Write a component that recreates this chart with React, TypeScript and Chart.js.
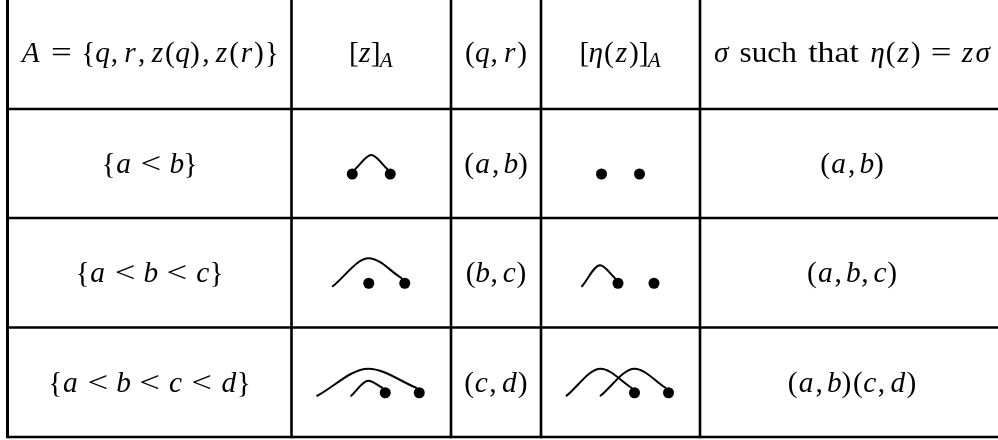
import React, { useEffect, useRef } from "react";
import { Chart, registerables } from "chart.js";

Chart.register(...registerables);

// ---- table structure ----
const colLines = [7.5, 291.5, 451, 541, 700, 1004];
const rowLines = [-4, 109, 218, 327.5, 437];

// ---- table text ----
const headers = ["A = {q, r, z(q), z(r)}", "[z]_A", "(q, r)", "[η(z)]_A", "σ such that η(z) = zσ"];
const subsets = ["{a < b}", "{a < b < c}", "{a < b < c < d}"];
const transpositions = ["(a, b)", "(b, c)", "(c, d)"];
const sigmas = ["(a, b)", "(a, b, c)", "(a, b)(c, d)"];

// ---- arc diagrams: positions count, dotted positions, arcs [from, to, rise] ----
const zCounts = [2, 3, 4];
const zDots = [[0, 1], [1, 2], [2, 3]];
const zArcs = [[[0, 1, 19]], [[0, 2, 25]], [[0, 3, 24], [1, 2, 12]]];
const etaCounts = [2, 3, 4];
const etaDots = [[0, 1], [1, 2], [2, 3]];
const etaArcs = [[], [[0, 1, 18]], [[0, 2, 24], [1, 3, 24]]];

const FONT = "'Liberation Serif', 'DejaVu Serif', serif";
const SIZE = 29.4;

// advance widths (em) emulating Computer Modern metrics
const CM_MATH: Record<string, number> = {
  "(": 0.389, ")": 0.389, "[": 0.278, "]": 0.278, "{": 0.5, "}": 0.5, ",": 0.278,
  "=": 0.778, "<": 0.778,
  A: 0.75, a: 0.529, b: 0.429, c: 0.433, d: 0.52, q: 0.46, r: 0.451, z: 0.465,
  "σ": 0.571, "η": 0.497,
};
const CM_ROMAN: Record<string, number> = { s: 0.394, u: 0.556, c: 0.444, h: 0.556, t: 0.389, a: 0.5 };

type Glyph = { ch: string; italic: boolean; sub: boolean; w: number; gap: boolean; kind: string };

function tokenize(s: string): Glyph[] {
  const out: Glyph[] = [];
  let i = 0;
  while (i < s.length) {
    const ch = s[i];
    if (ch === " ") {
      const prev = s[i - 1];
      const next = s[i + 1];
      let em = 0.333;
      if (prev === ",") em = 0.2;
      else if ("<=".includes(prev) || "<=".includes(next)) em = 0.278;
      out.push({ ch: "", italic: false, sub: false, w: em, gap: true, kind: "gap" });
      i++;
      continue;
    }
    if (ch === "_") {
      out.push({ ch: s[i + 1], italic: true, sub: true, w: 0, gap: false, kind: "sub" });
      i += 2;
      continue;
    }
    if (/[A-Za-z]/.test(ch)) {
      let j = i;
      while (j < s.length && /[A-Za-z]/.test(s[j])) j++;
      const word = s.slice(i, j);
      if (word.length === 1) {
        out.push({ ch: word, italic: true, sub: false, w: CM_MATH[word] ?? 0.5, gap: false, kind: "var" });
      } else {
        let w = 0;
        for (const c of word) w += CM_ROMAN[c] ?? 0.5;
        out.push({ ch: word, italic: false, sub: false, w, gap: false, kind: "word" });
      }
      i = j;
      continue;
    }
    const italic = ch === "σ" || ch === "η";
    const kind = ch === "=" || ch === "<" ? "rel" : ch === "," ? "comma" : italic ? "var" : "sym";
    out.push({ ch, italic, sub: false, w: CM_MATH[ch] ?? 0.5, gap: false, kind });
    i++;
  }
  return out;
}

function drawMath(ctx: CanvasRenderingContext2D, s: string, cx: number, baseline: number) {
  const glyphs = tokenize(s);
  const fontOf = (g: Glyph) => `${g.italic ? "italic " : ""}${g.sub ? SIZE * 0.72 : SIZE}px ${FONT}`;
  const boxes = glyphs.map((g) => {
    if (g.gap) return { box: g.w * SIZE, gw: 0 };
    ctx.font = fontOf(g);
    const gw = ctx.measureText(g.ch).width;
    if (g.sub) return { box: gw, gw };
    return { box: g.w * SIZE, gw };
  });
  const total = boxes.reduce((a, b) => a + b.box, 0);
  let x = cx - total / 2;
  ctx.fillStyle = "#000";
  ctx.textBaseline = "alphabetic";
  ctx.textAlign = "left";
  glyphs.forEach((g, k) => {
    const b = boxes[k];
    if (!g.gap) {
      ctx.font = fontOf(g);
      const y = baseline + (g.sub ? SIZE * 0.17 : 0);
      if (g.kind === "rel" || g.kind === "word") {
        const sx = g.kind === "rel" ? 1.25 : Math.min(1.15, Math.max(1, b.box / b.gw));
        ctx.save();
        ctx.translate(x + b.box / 2, y);
        ctx.scale(sx, 1);
        ctx.textAlign = "center";
        ctx.fillText(g.ch, 0, 0);
        ctx.restore();
      } else {
        const dx = g.kind === "comma" ? 0.05 * SIZE : (b.box - b.gw) / 2;
        ctx.fillText(g.ch, x + dx, y);
      }
    }
    x += b.box;
  });
}

export default function App() {
  const ref = useRef<HTMLCanvasElement | null>(null);

  useEffect(() => {
    const canvas = ref.current;
    if (!canvas) return;

    const colCenter = (c: number) => (colLines[c] + colLines[c + 1]) / 2;
    const rowCenter = (r: number) => (rowLines[r] + rowLines[r + 1]) / 2;
    const baselineOf = (r: number) => rowCenter(r) + 9.5;

    const datasets: any[] = [];
    const black = "#000000";
    const bottom = rowLines[rowLines.length - 1];

    // grid lines
    colLines.forEach((x, k) => {
      datasets.push({
        data: [{ x, y: -20 }, { x, y: bottom + 1.2 }],
        showLine: true,
        borderColor: black,
        borderWidth: k === 0 ? 3 : 2.6,
        pointRadius: 0,
        tension: 0,
      });
    });
    rowLines.forEach((y) => {
      datasets.push({
        data: [{ x: colLines[0], y }, { x: 1100, y }],
        showLine: true,
        borderColor: black,
        borderWidth: 2.5,
        pointRadius: 0,
        tension: 0,
      });
    });

    // diagrams
    const rowSpacing = [38, 36, 34];
    const rowShift = [0, -2.5, -3];
    const addDiagram = (col: number, row: number, n: number, dots: number[], arcs: number[][]) => {
      const spacing = rowSpacing[row];
      const cx = colCenter(col) + rowShift[row];
      const base = baselineOf(row + 1) + 1;
      const px = (i: number) => cx + (i - (n - 1) / 2) * spacing;
      arcs.forEach(([a, b, rise]) => {
        const startDot = dots.includes(a);
        const start = { x: px(a) + (startDot ? 3 : 0), y: base + (startDot ? -5 : 3) };
        const peak = { x: (px(a) + px(b)) / 2, y: base - rise };
        const end = { x: px(b) - 3, y: base - 5 };
        datasets.push({
          data: [start, peak, end],
          showLine: true,
          borderColor: black,
          borderWidth: 2,
          pointRadius: 0,
          cubicInterpolationMode: "monotone",
          borderCapStyle: "round",
        });
      });
      datasets.push({
        data: dots.map((i) => ({ x: px(i), y: base })),
        showLine: false,
        pointRadius: 5.5,
        pointBackgroundColor: black,
        pointBorderWidth: 0,
        borderWidth: 0,
      });
    };
    for (let r = 0; r < 3; r++) {
      addDiagram(1, r, zCounts[r], zDots[r], zArcs[r]);
      addDiagram(3, r, etaCounts[r], etaDots[r], etaArcs[r]);
    }

    const textPlugin = {
      id: "tableText",
      afterDraw(chart: any) {
        const ctx = chart.ctx as CanvasRenderingContext2D;
        ctx.save();
        headers.forEach((h, c) => drawMath(ctx, h, colCenter(c), baselineOf(0)));
        for (let r = 0; r < 3; r++) {
          drawMath(ctx, subsets[r], colCenter(0), baselineOf(r + 1));
          drawMath(ctx, transpositions[r], colCenter(2), baselineOf(r + 1));
          drawMath(ctx, sigmas[r], colCenter(4), baselineOf(r + 1));
        }
        ctx.restore();
      },
    };

    const chart = new Chart(canvas, {
      type: "scatter",
      data: { datasets },
      options: {
        animation: false,
        responsive: false,
        maintainAspectRatio: false,
        layout: { padding: 0, autoPadding: false },
        events: [],
        plugins: { legend: { display: false }, tooltip: { enabled: false } },
        scales: {
          x: { type: "linear", min: 0, max: 998, display: false },
          y: { type: "linear", min: 0, max: 440, reverse: true, display: false },
        },
      },
      plugins: [textPlugin],
    });

    return () => chart.destroy();
  }, []);

  return (
    <div style={{ position: "fixed", left: 0, top: 0, width: 998, height: 440, background: "#fff" }}>
      <canvas ref={ref} width={998} height={440} style={{ display: "block", width: 998, height: 440 }} />
    </div>
  );
}
